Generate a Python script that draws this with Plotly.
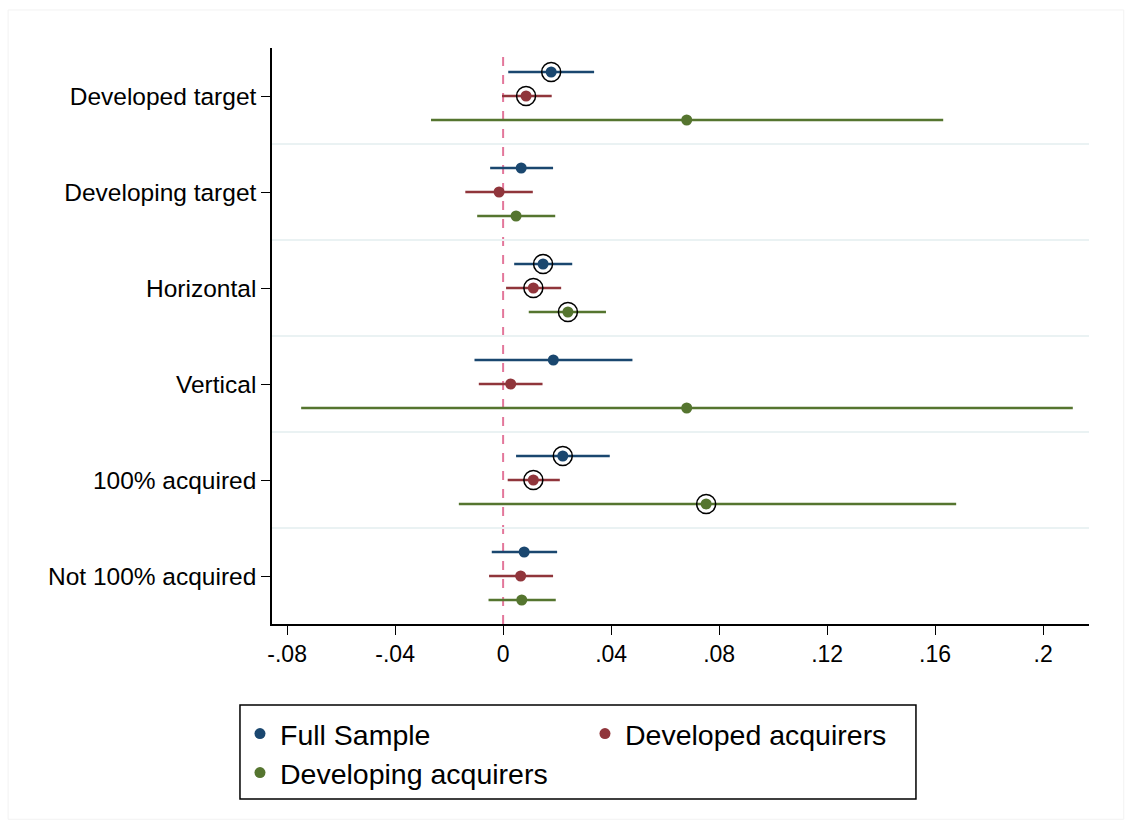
import plotly.graph_objects as go

# Subgroup labels, top to bottom
categories = ["Developed target", "Developing target", "Horizontal",
              "Vertical", "100% acquired", "Not 100% acquired"]

# Point estimates and 95% confidence bounds per sample
full_est = [0.0178, 0.0067, 0.0148, 0.0186, 0.0221, 0.0078]
full_lo = [0.0019, -0.0048, 0.0041, -0.0106, 0.0048, -0.0042]
full_hi = [0.0337, 0.0185, 0.0256, 0.0479, 0.0395, 0.0200]
full_sig = [True, False, True, False, True, False]

dvd_est = [0.0085, -0.0015, 0.0112, 0.0028, 0.0112, 0.0065]
dvd_lo = [-0.0004, -0.0140, 0.0011, -0.0090, 0.0017, -0.0052]
dvd_hi = [0.0180, 0.0110, 0.0215, 0.0146, 0.0210, 0.0185]
dvd_sig = [True, False, True, False, True, False]

dvg_est = [0.0680, 0.0048, 0.0240, 0.0680, 0.0752, 0.0069]
dvg_lo = [-0.0267, -0.0096, 0.0095, -0.0748, -0.0164, -0.0054]
dvg_hi = [0.1630, 0.0193, 0.0381, 0.2110, 0.1678, 0.0195]
dvg_sig = [False, False, True, False, True, False]

x_ticks = [-0.08, -0.04, 0, 0.04, 0.08, 0.12, 0.16, 0.2]
x_tick_text = ["-.08", "-.04", "0", ".04", ".08", ".12", ".16", ".2"]

series = [
    ("Full Sample", "#1a476f", full_est, full_lo, full_hi, full_sig, -0.25, "legend"),
    ("Developed acquirers", "#90353b", dvd_est, dvd_lo, dvd_hi, dvd_sig, 0.0, "legend"),
    ("Developing acquirers", "#55752f", dvg_est, dvg_lo, dvg_hi, dvg_sig, 0.25, "legend2"),
]

fig = go.Figure()
for name, color, est, lo, hi, sig, off, leg in series:
    ys = [i + off for i in range(len(categories))]
    fig.add_trace(go.Scatter(
        x=est, y=ys, mode="markers", name=name, legend=leg,
        marker=dict(color=color, size=11),
        error_x=dict(type="data", symmetric=False,
                     array=[h - e for h, e in zip(hi, est)],
                     arrayminus=[e - l for e, l in zip(est, lo)],
                     color=color, thickness=2.4, width=0),
    ))
    # ring around significant estimates
    fig.add_trace(go.Scatter(
        x=[e for e, s in zip(est, sig) if s],
        y=[y for y, s in zip(ys, sig) if s],
        mode="markers", showlegend=False, hoverinfo="skip",
        marker=dict(symbol="circle-open", size=19,
                    line=dict(color="black", width=1.5), color="black"),
    ))

# zero reference line
fig.add_shape(type="line", xref="x", yref="paper", x0=0, x1=0, y0=0, y1=1,
              line=dict(color="#e3779b", width=2, dash="dash"), layer="below")

# faint outer frame
fig.add_shape(type="rect", xref="paper", yref="paper",
              x0=-0.323, x1=1.0425, y0=-0.339, y1=1.066,
              line=dict(color="#f2f2f2", width=1))

# legend frame
fig.add_shape(type="rect", xref="paper", yref="paper",
              x0=-0.0392, x1=0.7882, y0=-0.3038, y1=-0.1406,
              line=dict(color="black", width=1.5))

legend_common = dict(orientation="h", xanchor="left", yanchor="middle",
                     font=dict(size=28.5), borderwidth=0,
                     bgcolor="rgba(0,0,0,0)", entrywidth=300,
                     traceorder="normal", itemsizing="trace")

fig.update_layout(
    width=1136, height=833,
    margin=dict(l=272, r=47, t=48, b=209),
    paper_bgcolor="white", plot_bgcolor="white",
    font=dict(family="Liberation Sans, Arial, sans-serif", color="black"),
    showlegend=True,
    legend=dict(x=-0.0392, y=-0.191, **legend_common),
    legend2=dict(x=-0.0392, y=-0.2587, **legend_common),
    xaxis=dict(range=[-0.0856, 0.217], tickvals=x_ticks, ticktext=x_tick_text,
               showgrid=False, zeroline=False, showline=True, linecolor="black",
               linewidth=1.5, ticks="outside", ticklen=9, tickcolor="black",
               tickfont=dict(size=23)),
    yaxis=dict(range=[5.5, -0.5], tickvals=list(range(len(categories))),
               ticktext=categories, showgrid=False, zeroline=False,
               showline=True, linecolor="black", linewidth=1.5,
               ticks="outside", ticklen=9, tickcolor="black",
               tickfont=dict(size=24.5),
               minor=dict(tickvals=[0.5, 1.5, 2.5, 3.5, 4.5], showgrid=True,
                          gridcolor="#eaf2f3", gridwidth=2, ticks="")),
)

fig.write_html("out.html")
